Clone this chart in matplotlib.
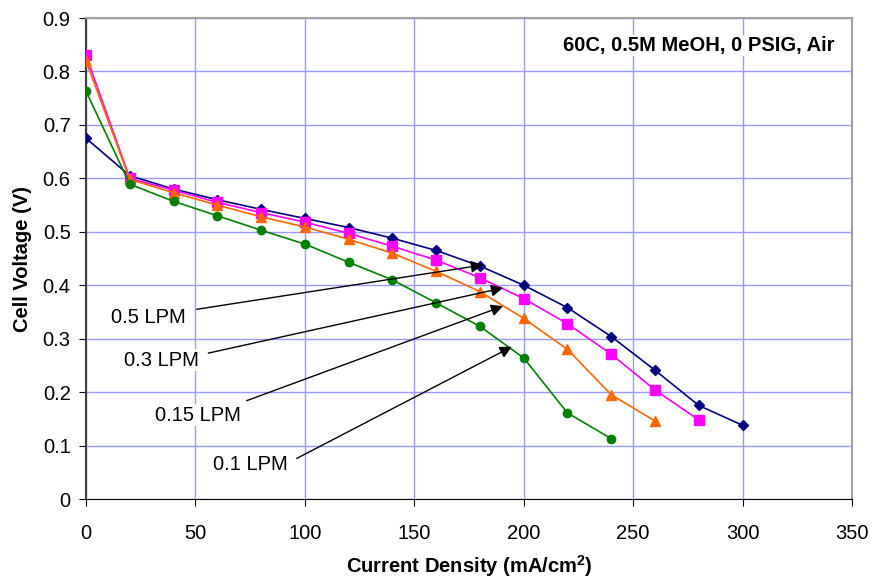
import matplotlib.pyplot as plt
from matplotlib.ticker import FuncFormatter

plt.rcParams['font.family'] = ['Liberation Sans', 'DejaVu Sans']
plt.rcParams['mathtext.fontset'] = 'custom'
plt.rcParams['mathtext.bf'] = 'Liberation Sans:bold'
plt.rcParams['mathtext.rm'] = 'Liberation Sans'

# current density (mA/cm2) and cell voltage (V) for each methanol flow
current_05 = [0, 20, 40, 60, 80, 100, 120, 140, 160, 180, 200, 220, 240, 260, 280, 300]
volts_05 = [0.675, 0.605, 0.580, 0.560, 0.542, 0.525, 0.508, 0.488, 0.465, 0.436,
            0.400, 0.358, 0.304, 0.241, 0.175, 0.138]

current_03 = [0, 20, 40, 60, 80, 100, 120, 140, 160, 180, 200, 220, 240, 260, 280]
volts_03 = [0.830, 0.600, 0.578, 0.555, 0.536, 0.518, 0.497, 0.473, 0.447, 0.414,
            0.375, 0.328, 0.271, 0.204, 0.148]

current_015 = [0, 20, 40, 60, 80, 100, 120, 140, 160, 180, 200, 220, 240, 260]
volts_015 = [0.820, 0.598, 0.573, 0.550, 0.528, 0.509, 0.486, 0.460, 0.426, 0.388,
             0.338, 0.280, 0.195, 0.146]

current_01 = [0, 20, 40, 60, 80, 100, 120, 140, 160, 180, 200, 220, 240]
volts_01 = [0.763, 0.589, 0.557, 0.530, 0.503, 0.477, 0.443, 0.410, 0.367, 0.323,
            0.264, 0.161, 0.113]

# label text, label position, arrow start, arrow tip
labels = ['0.5 LPM', '0.3 LPM', '0.15 LPM', '0.1 LPM']
label_pos = [(28.3, 0.339), (34.3, 0.260), (51.2, 0.157), (74.9, 0.064)]
arrow_from = [(50.6, 0.355), (55.9, 0.273), (73.4, 0.184), (96.3, 0.076)]
arrow_to = [(181.4, 0.438), (190.6, 0.395), (190.6, 0.361), (194.6, 0.285)]

fig = plt.figure(figsize=(8.74, 5.81), dpi=100)
ax = fig.add_axes([0.0984, 0.1411, 0.8764, 0.8279])

ax.plot(current_05, volts_05, color='#000080', marker='D', markersize=5, lw=1.2, zorder=3)
ax.plot(current_03, volts_03, color='#FF00FF', marker='s', markersize=7, lw=1.2, zorder=3)
ax.plot(current_015, volts_015, color='#FF6600', marker='^', markersize=7, lw=1.2, zorder=3)
ax.plot(current_01, volts_01, color='#008000', marker='o', markersize=6, lw=1.2, zorder=3)

for text, pos, start, tip in zip(labels, label_pos, arrow_from, arrow_to):
    ax.text(pos[0], pos[1], text, fontsize=14.5, ha='center', va='center', zorder=2,
            bbox=dict(facecolor='white', edgecolor='none', pad=1))
    ax.annotate('', xy=tip, xytext=start, zorder=4,
                arrowprops=dict(arrowstyle='-|>', color='black', lw=1, mutation_scale=18,
                                shrinkA=0, shrinkB=0))

ax.text(0.977, 0.943, '60C, 0.5M MeOH, 0 PSIG, Air', transform=ax.transAxes,
        fontsize=14.5, fontweight='bold', ha='right', va='center', zorder=2,
        bbox=dict(facecolor='white', edgecolor='none', pad=1))

ax.set_xlim(0, 350)
ax.set_ylim(0, 0.9)
ax.set_xticks(range(0, 351, 50))
ax.set_yticks([i / 10 for i in range(10)])
ax.yaxis.set_major_formatter(FuncFormatter(lambda v, p: '%g' % round(v, 1)))
ax.grid(True, color='#9999FF', lw=1, zorder=0)
ax.set_axisbelow(True)

for side in ['top', 'right']:
    ax.spines[side].set_color('#A0A0A0')
    ax.spines[side].set_linewidth(1.5)
ax.spines['left'].set_color('#404040')
ax.spines['left'].set_linewidth(1.5)
ax.spines['bottom'].set_color('black')
ax.tick_params(direction='out', length=5, labelsize=14.5)
ax.tick_params(axis='x', pad=13)
ax.tick_params(axis='y', pad=6)

ax.set_xlabel(r'Current Density (mA/cm$\mathbf{^2}$)', fontsize=14.5, fontweight='bold', labelpad=7)
ax.set_ylabel('Cell Voltage (V)', fontsize=14.5, fontweight='bold', labelpad=8)

fig.savefig('out.png', dpi=100)
